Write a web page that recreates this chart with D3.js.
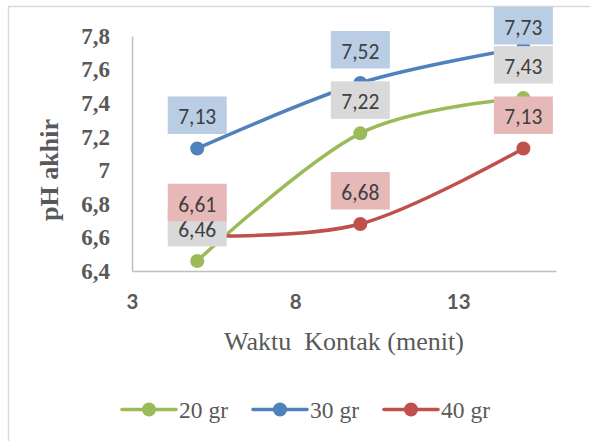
<!DOCTYPE html>
<html>
<head>
<meta charset="utf-8">
<script src="https://cdn.jsdelivr.net/npm/d3@7"></script>
<style>
  html, body { margin: 0; padding: 0; background: #fff; }
  svg { display: block; }
</style>
</head>
<body>
<svg id="chart" width="590" height="441"></svg>
<script>
// ---- data ----
const xValues = [5, 10, 15];
const seriesNames = ["20 gr", "30 gr", "40 gr"];
const values20 = [6.46, 7.22, 7.43];
const values30 = [7.13, 7.52, 7.73];
const values40 = [6.61, 6.68, 7.13];
const xTicks = [3, 8, 13];
const yTicks = [6.4, 6.6, 6.8, 7.0, 7.2, 7.4, 7.6, 7.8];
const seriesColors = ["#9BBB59", "#4F81BD", "#C0504D"];
const labelFills = ["#D9D9D9", "#B9CDE5", "#E6B9B8"];
const xTitle = "Waktu  Kontak (menit)";
const yTitle = "pH akhir";

const series = [values20, values30, values40].map((vals, i) => ({
  name: seriesNames[i],
  color: seriesColors[i],
  labelFill: labelFills[i],
  points: vals.map((v, j) => ({ x: xValues[j], y: v }))
}));

const svg = d3.select("#chart");

// outer chart frame (cropped at right/bottom)
svg.append("rect")
  .attr("x", 8.5).attr("y", 6.5)
  .attr("width", 700).attr("height", 600)
  .attr("fill", "#fff")
  .attr("stroke", "#D9D9D9").attr("stroke-width", 1.5);

const x = d3.scaleLinear().domain([3, 16]).range([132, 556]);
const y = d3.scaleLinear().domain([6.4, 7.8]).range([271, 36]);

const fmt = v => String(+v.toFixed(2)).replace(".", ",");

// y axis
const yAxis = svg.append("g")
  .attr("transform", `translate(${x.range()[0]},0)`)
  .call(d3.axisLeft(y).tickValues(yTicks).tickSize(0).tickPadding(22).tickFormat(fmt));
yAxis.select(".domain").attr("stroke", "#BFBFBF").attr("stroke-width", 1.5);
yAxis.selectAll("text")
  .attr("font-family", "'Liberation Serif', 'Times New Roman', serif")
  .attr("font-weight", "bold")
  .attr("font-size", 23)
  .attr("fill", "#595959");

// x axis
const xAxis = svg.append("g")
  .attr("transform", `translate(0,${y.range()[0]})`)
  .call(d3.axisBottom(x).tickValues(xTicks).tickSize(0).tickPadding(23).tickFormat(d3.format("d")));
xAxis.select(".domain").attr("stroke", "#BFBFBF").attr("stroke-width", 1.5);
xAxis.selectAll("text")
  .attr("font-family", "Lato, 'Open Sans', sans-serif")
  .attr("font-weight", "bold")
  .attr("font-size", 20.5)
  .attr("fill", "#595959");

// axis titles
svg.append("text")
  .attr("x", 344).attr("y", 350)
  .attr("text-anchor", "middle")
  .style("white-space", "pre")
  .attr("font-family", "'Liberation Serif', 'Times New Roman', serif")
  .attr("font-size", 26)
  .attr("fill", "#595959")
  .text(xTitle);

svg.append("text")
  .attr("transform", "translate(58,170) rotate(-90)")
  .attr("text-anchor", "middle")
  .attr("font-family", "'Liberation Serif', 'Times New Roman', serif")
  .attr("font-weight", "bold")
  .attr("font-size", 26)
  .attr("fill", "#595959")
  .text(yTitle);

// lines
const line = d3.line()
  .x(d => x(d.x)).y(d => y(d.y))
  .curve(d3.curveCardinal.tension(0));

const gSeries = svg.append("g");
series.forEach(s => {
  gSeries.append("path")
    .datum(s.points)
    .attr("d", line)
    .attr("fill", "none")
    .attr("stroke", s.color)
    .attr("stroke-width", 3.5)
    .attr("stroke-linecap", "round");
  gSeries.selectAll(null)
    .data(s.points)
    .join("circle")
    .attr("cx", d => x(d.x)).attr("cy", d => y(d.y))
    .attr("r", 7)
    .attr("fill", s.color);
});

// data labels (on top of all lines)
const boxW = 59, boxH = 37.5, gap = 14.5, topLimit = 7;
const gLabels = svg.append("g");
series.forEach(s => {
  s.points.forEach(p => {
    const cx = x(p.x), cy = y(p.y);
    const top = Math.max(topLimit, cy - gap - boxH);
    gLabels.append("rect")
      .attr("x", cx - boxW / 2).attr("y", top)
      .attr("width", boxW).attr("height", boxH)
      .attr("fill", s.labelFill);
    gLabels.append("text")
      .attr("x", cx).attr("y", top + 28)
      .attr("text-anchor", "middle")
      .attr("font-family", "Carlito, Lato, 'Open Sans', sans-serif")
      .attr("font-size", 21.5)
      .attr("fill", "#404040")
      .text(fmt(p.y));
  });
});

// legend
const legendItems = [
  { x0: 122, x1: 176, tx: 179 },
  { x0: 253, x1: 307, tx: 310 },
  { x0: 384, x1: 438, tx: 441 }
];
const ly = 409.5;
const gLegend = svg.append("g");
series.forEach((s, i) => {
  const it = legendItems[i];
  gLegend.append("line")
    .attr("x1", it.x0).attr("x2", it.x1)
    .attr("y1", ly).attr("y2", ly)
    .attr("stroke", s.color).attr("stroke-width", 3.5)
    .attr("stroke-linecap", "round");
  gLegend.append("circle")
    .attr("cx", (it.x0 + it.x1) / 2).attr("cy", ly)
    .attr("r", 7).attr("fill", s.color);
  gLegend.append("text")
    .attr("x", it.tx).attr("y", ly + 8)
    .attr("font-family", "'Liberation Serif', 'Times New Roman', serif")
    .attr("font-size", 23.5)
    .attr("fill", "#595959")
    .text(s.name);
});
</script>
</body>
</html>
